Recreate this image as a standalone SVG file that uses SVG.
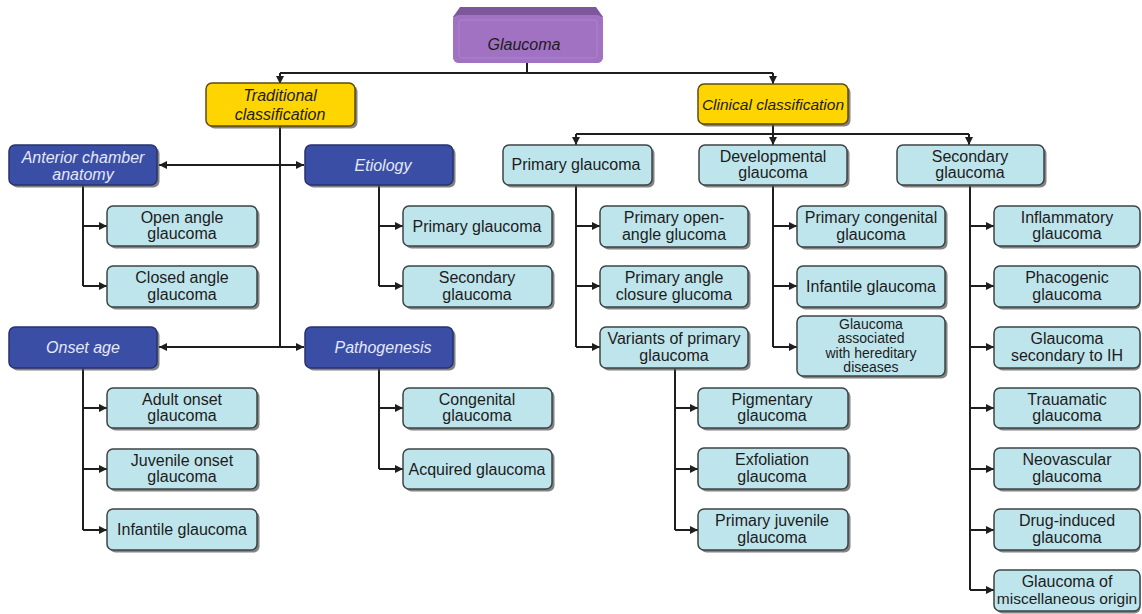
<svg xmlns="http://www.w3.org/2000/svg" width="1142" height="614" viewBox="0 0 1142 614">
<style>
text{font-family:"Liberation Sans",Arial,sans-serif;font-size:16px;text-anchor:middle;fill:#1c1c1c}
.it{font-style:italic}
.wt{fill:#e4e8f8}
.sm{font-size:14px}
.sh{fill:#5a5a5a;opacity:0.75}
.cy{fill:#bfe5ec;stroke:#3c4446;stroke-width:1.5}
.bl{fill:#3b4ea6;stroke:#27336e;stroke-width:1.5}
.ye{fill:#ffd500;stroke:#5c4c10;stroke-width:1.5}
.ln{fill:none;stroke:#1e1e1e;stroke-width:2}
.ar{fill:none;stroke:#1e1e1e;stroke-width:2;marker-end:url(#ah)}
.bi{fill:none;stroke:#1e1e1e;stroke-width:2;marker-end:url(#ah);marker-start:url(#ahs)}
</style>
<defs>
<marker id="ah" markerUnits="userSpaceOnUse" markerWidth="10" markerHeight="10" refX="8" refY="5" orient="auto"><path d="M0,1 L8,5 L0,9 Z" fill="#1e1e1e"/></marker>
<marker id="ahs" markerUnits="userSpaceOnUse" markerWidth="10" markerHeight="10" refX="0" refY="5" orient="auto"><path d="M8,1 L0,5 L8,9 Z" fill="#1e1e1e"/></marker>
</defs>
<rect width="1142" height="614" fill="#ffffff"/>

<g id="connectors">
<path class="ln" d="M527,63 V73 M280,73 H773"/>
<path class="ar" d="M280,73 V84"/>
<path class="ar" d="M773,73 V84"/>
<path class="ln" d="M280,126 V347"/>
<path class="bi" d="M159,165 H304"/>
<path class="bi" d="M159,347 H304"/>
<path class="ln" d="M773,124 V134 M576,134 H969"/>
<path class="ar" d="M576,134 V145"/>
<path class="ar" d="M773,134 V145"/>
<path class="ar" d="M969,134 V145"/>
<path class="ln" d="M83,185 V286 M83,368 V530 M379,185 V286 M379,368 V469 M576,185 V347 M773,185 V347 M675,368 V530 M970,185 V590"/>
<path class="ar" d="M83,226 H107"/><path class="ar" d="M83,286 H107"/>
<path class="ar" d="M83,408 H107"/><path class="ar" d="M83,469 H107"/><path class="ar" d="M83,530 H107"/>
<path class="ar" d="M379,226 H403"/><path class="ar" d="M379,286 H403"/>
<path class="ar" d="M379,408 H403"/><path class="ar" d="M379,469 H403"/>
<path class="ar" d="M576,226 H600"/><path class="ar" d="M576,286 H600"/><path class="ar" d="M576,347 H600"/>
<path class="ar" d="M773,226 H797"/><path class="ar" d="M773,286 H797"/><path class="ar" d="M773,347 H797"/>
<path class="ar" d="M675,408 H698"/><path class="ar" d="M675,469 H698"/><path class="ar" d="M675,530 H698"/>
<path class="ar" d="M970,226 H994"/><path class="ar" d="M970,286 H994"/><path class="ar" d="M970,347 H994"/><path class="ar" d="M970,408 H994"/><path class="ar" d="M970,469 H994"/><path class="ar" d="M970,530 H994"/><path class="ar" d="M970,590 H994"/>
</g>

<g id="glaucoma">
<rect x="453" y="13" width="150" height="50" rx="6" fill="#a474c4"/>
<path d="M460,7 H596 L603,17 H453 Z" fill="#7d579c"/>
<rect x="453" y="15" width="150" height="48" rx="6" fill="#a272c2"/>
<rect x="459" y="20" width="138" height="38" rx="3" fill="none" stroke="#ad82cb" stroke-width="1"/>
<text class="it" x="524" y="50">Glaucoma</text>
</g>

<g id="traditional">
<rect class="sh" x="208.5" y="85.5" width="149" height="43" rx="6"/>
<rect class="ye" x="206" y="83" width="149" height="43" rx="6"/>
<text class="it" x="280" y="101">Traditional</text>
<text class="it" x="280" y="120">classification</text>
</g>

<g id="clinical">
<rect class="sh" x="700.5" y="86.5" width="150" height="40" rx="6"/>
<rect class="ye" x="698" y="84" width="150" height="40" rx="6"/>
<text class="it" x="773" y="110" style="font-size:15.5px">Clinical classification</text>
</g>

<g id="anterior">
<rect class="sh" x="11.5" y="147.5" width="148" height="40" rx="6"/>
<rect class="bl" x="9" y="145" width="148" height="40" rx="6"/>
<text class="it wt" x="83" y="163">Anterior chamber</text>
<text class="it wt" x="83" y="180">anatomy</text>
</g>

<g id="etiology">
<rect class="sh" x="307.5" y="147.5" width="148" height="40" rx="6"/>
<rect class="bl" x="305" y="145" width="148" height="40" rx="6"/>
<text class="it wt" x="383" y="171">Etiology</text>
</g>

<g id="onset">
<rect class="sh" x="11.5" y="329.5" width="148" height="41" rx="6"/>
<rect class="bl" x="9" y="327" width="148" height="41" rx="6"/>
<text class="it wt" x="83" y="353">Onset age</text>
</g>

<g id="pathogenesis">
<rect class="sh" x="307.5" y="329.5" width="148" height="41" rx="6"/>
<rect class="bl" x="305" y="327" width="148" height="41" rx="6"/>
<text class="it wt" x="383" y="353">Pathogenesis</text>
</g>

<g id="open-angle">
<rect class="sh" x="109.5" y="208.5" width="150" height="40" rx="6"/>
<rect class="cy" x="107" y="206" width="150" height="40" rx="6"/>
<text x="182" y="223">Open angle</text><text x="182" y="239">glaucoma</text>
</g>
<g id="closed-angle">
<rect class="sh" x="109.5" y="268.5" width="150" height="41" rx="6"/>
<rect class="cy" x="107" y="266" width="150" height="41" rx="6"/>
<text x="182" y="283">Closed angle</text><text x="182" y="300">glaucoma</text>
</g>
<g id="adult">
<rect class="sh" x="109.5" y="390.5" width="150" height="40" rx="6"/>
<rect class="cy" x="107" y="388" width="150" height="40" rx="6"/>
<text x="182" y="405">Adult onset</text><text x="182" y="421">glaucoma</text>
</g>
<g id="juvenile">
<rect class="sh" x="109.5" y="451.5" width="150" height="40" rx="6"/>
<rect class="cy" x="107" y="449" width="150" height="40" rx="6"/>
<text x="182" y="466">Juvenile onset</text><text x="182" y="482">glaucoma</text>
</g>
<g id="infantile-left">
<rect class="sh" x="109.5" y="511.5" width="150" height="41" rx="6"/>
<rect class="cy" x="107" y="509" width="150" height="41" rx="6"/>
<text x="182" y="535">Infantile glaucoma</text>
</g>

<g id="etio-primary">
<rect class="sh" x="405.5" y="208.5" width="149" height="40" rx="6"/>
<rect class="cy" x="403" y="206" width="149" height="40" rx="6"/>
<text x="477" y="232">Primary glaucoma</text>
</g>
<g id="etio-secondary">
<rect class="sh" x="405.5" y="268.5" width="149" height="41" rx="6"/>
<rect class="cy" x="403" y="266" width="149" height="41" rx="6"/>
<text x="477" y="283">Secondary</text><text x="477" y="300">glaucoma</text>
</g>
<g id="congenital">
<rect class="sh" x="405.5" y="390.5" width="149" height="40" rx="6"/>
<rect class="cy" x="403" y="388" width="149" height="40" rx="6"/>
<text x="477" y="405">Congenital</text><text x="477" y="421">glaucoma</text>
</g>
<g id="acquired">
<rect class="sh" x="405.5" y="451.5" width="149" height="40" rx="6"/>
<rect class="cy" x="403" y="449" width="149" height="40" rx="6"/>
<text x="477" y="475">Acquired glaucoma</text>
</g>

<g id="primary-glaucoma">
<rect class="sh" x="505.5" y="147.5" width="149" height="40" rx="6"/>
<rect class="cy" x="503" y="145" width="149" height="40" rx="6"/>
<text x="576" y="170">Primary glaucoma</text>
</g>
<g id="developmental">
<rect class="sh" x="701.5" y="147.5" width="148" height="40" rx="6"/>
<rect class="cy" x="699" y="145" width="148" height="40" rx="6"/>
<text x="773" y="162">Developmental</text><text x="773" y="178">glaucoma</text>
</g>
<g id="secondary-glaucoma">
<rect class="sh" x="899.5" y="147.5" width="147" height="40" rx="6"/>
<rect class="cy" x="897" y="145" width="147" height="40" rx="6"/>
<text x="970" y="162">Secondary</text><text x="970" y="178">glaucoma</text>
</g>

<g id="poag">
<rect class="sh" x="602.5" y="208.5" width="148" height="41" rx="6"/>
<rect class="cy" x="600" y="206" width="148" height="41" rx="6"/>
<text x="674" y="223">Primary open-</text><text x="674" y="240">angle glucoma</text>
</g>
<g id="pacg">
<rect class="sh" x="602.5" y="268.5" width="148" height="41" rx="6"/>
<rect class="cy" x="600" y="266" width="148" height="41" rx="6"/>
<text x="674" y="283">Primary angle</text><text x="674" y="300">closure glucoma</text>
</g>
<g id="variants">
<rect class="sh" x="602.5" y="329.5" width="148" height="41" rx="6"/>
<rect class="cy" x="600" y="327" width="148" height="41" rx="6"/>
<text x="674" y="344">Variants of primary</text><text x="674" y="361">glaucoma</text>
</g>

<g id="primary-congenital">
<rect class="sh" x="799.5" y="208.5" width="148" height="41" rx="6"/>
<rect class="cy" x="797" y="206" width="148" height="41" rx="6"/>
<text x="871" y="223">Primary congenital</text><text x="871" y="240">glaucoma</text>
</g>
<g id="infantile-dev">
<rect class="sh" x="799.5" y="268.5" width="148" height="41" rx="6"/>
<rect class="cy" x="797" y="266" width="148" height="41" rx="6"/>
<text x="871" y="292">Infantile glaucoma</text>
</g>
<g id="hereditary">
<rect class="sh" x="799.5" y="318.5" width="148" height="60" rx="6"/>
<rect class="cy" x="797" y="316" width="148" height="60" rx="6"/>
<text class="sm" x="871" y="328.5">Glaucoma</text>
<text class="sm" x="871" y="343">associated</text>
<text class="sm" x="871" y="357.5">with hereditary</text>
<text class="sm" x="871" y="372">diseases</text>
</g>

<g id="pigmentary">
<rect class="sh" x="700.5" y="390.5" width="150" height="40" rx="6"/>
<rect class="cy" x="698" y="388" width="150" height="40" rx="6"/>
<text x="772" y="405">Pigmentary</text><text x="772" y="421">glaucoma</text>
</g>
<g id="exfoliation">
<rect class="sh" x="700.5" y="450.5" width="150" height="41" rx="6"/>
<rect class="cy" x="698" y="448" width="150" height="41" rx="6"/>
<text x="772" y="465">Exfoliation</text><text x="772" y="482">glaucoma</text>
</g>
<g id="primary-juvenile">
<rect class="sh" x="700.5" y="511.5" width="150" height="41" rx="6"/>
<rect class="cy" x="698" y="509" width="150" height="41" rx="6"/>
<text x="772" y="526">Primary juvenile</text><text x="772" y="543">glaucoma</text>
</g>

<g id="inflammatory">
<rect class="sh" x="996.5" y="208.5" width="144" height="40" rx="6"/>
<rect class="cy" x="994" y="206" width="146" height="40" rx="6"/>
<text x="1067" y="223">Inflammatory</text><text x="1067" y="239">glaucoma</text>
</g>
<g id="phacogenic">
<rect class="sh" x="996.5" y="268.5" width="144" height="41" rx="6"/>
<rect class="cy" x="994" y="266" width="146" height="41" rx="6"/>
<text x="1067" y="283">Phacogenic</text><text x="1067" y="300">glaucoma</text>
</g>
<g id="secondary-ih">
<rect class="sh" x="996.5" y="329.5" width="144" height="41" rx="6"/>
<rect class="cy" x="994" y="327" width="146" height="41" rx="6"/>
<text x="1067" y="344">Glaucoma</text><text x="1067" y="361">secondary to IH</text>
</g>
<g id="traumatic">
<rect class="sh" x="996.5" y="390.5" width="144" height="40" rx="6"/>
<rect class="cy" x="994" y="388" width="146" height="40" rx="6"/>
<text x="1067" y="405">Trauamatic</text><text x="1067" y="421">glaucoma</text>
</g>
<g id="neovascular">
<rect class="sh" x="996.5" y="450.5" width="144" height="41" rx="6"/>
<rect class="cy" x="994" y="448" width="146" height="41" rx="6"/>
<text x="1067" y="465">Neovascular</text><text x="1067" y="482">glaucoma</text>
</g>
<g id="drug-induced">
<rect class="sh" x="996.5" y="511.5" width="144" height="41" rx="6"/>
<rect class="cy" x="994" y="509" width="146" height="41" rx="6"/>
<text x="1067" y="526">Drug-induced</text><text x="1067" y="543">glaucoma</text>
</g>
<g id="miscellaneous">
<rect class="sh" x="996.5" y="572.5" width="144" height="41" rx="6"/>
<rect class="cy" x="994" y="570" width="146" height="41" rx="6"/>
<text x="1067" y="587">Glaucoma of</text><text x="1067" y="604" style="font-size:15.5px">miscellaneous origin</text>
</g>
</svg>
